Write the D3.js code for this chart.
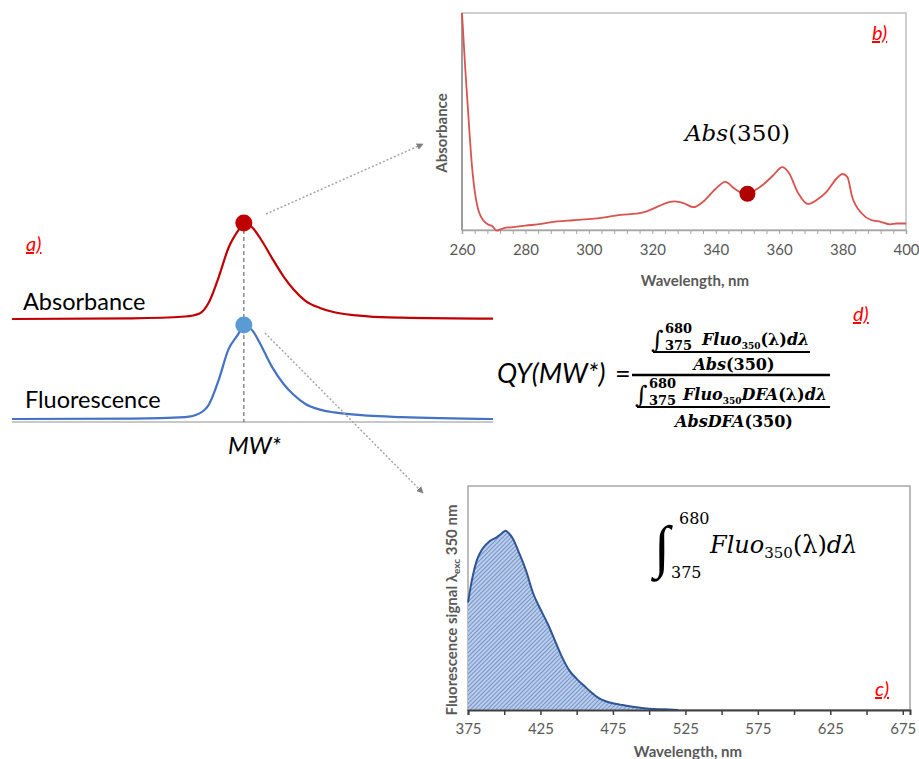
<!DOCTYPE html>
<html>
<head>
<meta charset="utf-8">
<script src="https://cdn.jsdelivr.net/npm/d3@7"></script>
<style>
  body { margin: 0; background: #fff; }
  svg { display: block; }
  text { font-family: Lato, "Open Sans", sans-serif; }
  .math { font-family: "DejaVu Serif", "Liberation Serif", serif; }
  .intg { font-family: "Liberation Serif", "DejaVu Serif", serif; }
</style>
</head>
<body>
<div id="chart-area"></div>
<script>
// ---- panel a: schematic MW distribution (arbitrary units) ----
const mwPos = [0, 25, 36, 39, 41, 43, 45, 47, 48.2, 50, 52, 54, 56.5, 58.5, 61, 64, 67, 74, 81, 100]
const mwAbs = [0, 0.007, 0.026, 0.058, 0.18, 0.44, 0.74, 0.92, 1.0, 0.95, 0.81, 0.64, 0.44, 0.31, 0.19, 0.115, 0.07, 0.028, 0.014, 0.003]
const mwFluo = [0, 0.005, 0.02, 0.06, 0.16, 0.42, 0.74, 0.9, 1.0, 0.94, 0.76, 0.56, 0.37, 0.26, 0.16, 0.1, 0.07, 0.035, 0.02, 0]
const mwPeak = 48.2

// ---- panel b: absorbance spectrum ----
const absWl = [260, 261, 262, 263, 264, 265, 266, 268, 269.5, 271, 273, 276, 280, 285, 290, 295, 300, 305, 310, 315, 318, 322, 325, 327, 330, 333, 336, 340, 343, 346, 348, 350, 352, 355, 358, 361, 363, 366, 369, 372, 375, 378, 380, 381.5, 383, 386, 389, 392, 395, 397, 400]
const absVal = [1.0, 0.75, 0.53, 0.32, 0.18, 0.1, 0.06, 0.028, 0.018, -0.003, 0.008, 0.013, 0.02, 0.028, 0.04, 0.045, 0.05, 0.058, 0.07, 0.075, 0.085, 0.11, 0.127, 0.132, 0.123, 0.105, 0.13, 0.19, 0.222, 0.19, 0.172, 0.167, 0.18, 0.21, 0.25, 0.29, 0.265, 0.17, 0.12, 0.14, 0.177, 0.235, 0.258, 0.245, 0.154, 0.077, 0.046, 0.038, 0.026, 0.03, 0.03]
const absTicks = d3.range(260, 401, 4)
const absLabels = [260, 280, 300, 320, 340, 360, 380, 400]
const excWl = 350

// ---- panel c: fluorescence emission at 350 nm excitation ----
const fluoWl = [375, 378, 381, 385, 390, 395, 398, 401, 403, 406, 410, 415, 420, 425, 430, 435, 440, 445, 450, 455, 460, 465, 470, 475, 480, 490, 500, 510, 520]
const fluoVal = [0.48, 0.59, 0.667, 0.72, 0.754, 0.772, 0.787, 0.8, 0.79, 0.765, 0.705, 0.623, 0.52, 0.45, 0.385, 0.31, 0.235, 0.176, 0.139, 0.109, 0.079, 0.054, 0.039, 0.03, 0.024, 0.013, 0.006, 0.003, 0]
const fluoTicks = d3.range(375, 680, 25)
const fluoLabels = [375, 425, 475, 525, 575, 625, 675]

const RED = "#c00000", BLUE = "#4472c4", AXIS_GREY = "#595959"

const svg = d3.select("#chart-area").append("svg")
  .attr("width", 919)
  .attr("height", 759)

const defs = svg.append("defs")
defs.append("marker")
  .attr("id", "arrow")
  .attr("viewBox", "0 0 10 10")
  .attr("refX", 9).attr("refY", 5)
  .attr("markerWidth", 7).attr("markerHeight", 7)
  .attr("markerUnits", "userSpaceOnUse")
  .attr("orient", "auto")
  .append("path").attr("d", "M0,0L10,5L0,10Z").attr("fill", "#7f7f7f")

const hatch = defs.append("pattern")
  .attr("id", "hatch")
  .attr("patternUnits", "userSpaceOnUse")
  .attr("width", 3).attr("height", 3)
  .attr("patternTransform", "rotate(45)")
hatch.append("rect").attr("width", 3).attr("height", 3).attr("fill", "#bccde9")
hatch.append("line").attr("x1", 0).attr("y1", 0).attr("x2", 0).attr("y2", 3)
  .attr("stroke", "#5a82c2").attr("stroke-width", 1.5)

function panelLabel(x, y, txt) {
  svg.append("text")
    .attr("x", x).attr("y", y)
    .attr("font-size", "20px")
    .attr("font-style", "italic")
    .attr("text-decoration", "underline")
    .attr("fill", "#ff0000")
    .text(txt)
}

// ================= panel a =================
const xa = d3.scaleLinear().domain([0, 100]).range([12, 493])
const yaAbs = d3.scaleLinear().domain([0, 1]).range([319, 223])
const yaFluo = d3.scaleLinear().domain([0, 1]).range([419, 325])

const ga = svg.append("g")

ga.append("line")
  .attr("x1", xa(0)).attr("x2", xa(100))
  .attr("y1", 422).attr("y2", 422)
  .attr("stroke", "#c8c8c8").attr("stroke-width", 2)

ga.append("line")
  .attr("x1", xa(mwPeak)).attr("x2", xa(mwPeak))
  .attr("y1", yaAbs(1)).attr("y2", 422)
  .attr("stroke", "#6f6f6f").attr("stroke-width", 1.2)
  .attr("stroke-dasharray", "4,3")

const mwRows = mwPos.map((p, i) => ({ p, a: mwAbs[i], f: mwFluo[i] }))

ga.append("path")
  .datum(mwRows)
  .attr("fill", "none").attr("stroke", RED).attr("stroke-width", 2.2)
  .attr("d", d3.line().x(d => xa(d.p)).y(d => yaAbs(d.a)).curve(d3.curveMonotoneX))

ga.append("path")
  .datum(mwRows)
  .attr("fill", "none").attr("stroke", BLUE).attr("stroke-width", 2.2)
  .attr("d", d3.line().x(d => xa(d.p)).y(d => yaFluo(d.f)).curve(d3.curveMonotoneX))

// dotted arrows to panels b and c
ga.append("line")
  .attr("x1", 266).attr("y1", 214).attr("x2", 423).attr("y2", 144)
  .attr("stroke", "#a6a6a6").attr("stroke-width", 1.5).attr("stroke-dasharray", "2,2")
  .attr("marker-end", "url(#arrow)")
ga.append("line")
  .attr("x1", 265).attr("y1", 333).attr("x2", 423).attr("y2", 493)
  .attr("stroke", "#a6a6a6").attr("stroke-width", 1.5).attr("stroke-dasharray", "2,2")
  .attr("marker-end", "url(#arrow)")

ga.append("circle").attr("cx", xa(mwPeak)).attr("cy", yaAbs(1)).attr("r", 8.5).attr("fill", RED)
ga.append("circle").attr("cx", xa(mwPeak)).attr("cy", yaFluo(1)).attr("r", 8.5).attr("fill", "#5b9bd5")

ga.append("text").attr("x", 23).attr("y", 310).attr("font-size", "23.5px").attr("fill", "#000").text("Absorbance")
ga.append("text").attr("x", 25).attr("y", 408).attr("font-size", "23.5px").attr("fill", "#000").text("Fluorescence")
ga.append("text").attr("x", 228).attr("y", 454).attr("font-size", "24px").attr("font-style", "italic").text("MW*")
panelLabel(26, 251, "a)")

// ================= panel b =================
const xb = d3.scaleLinear().domain([260, 400]).range([462, 906])
const yb = d3.scaleLinear().domain([0, 1]).range([230, 13])

const gb = svg.append("g")
gb.append("rect")
  .attr("x", xb(260)).attr("y", yb(1))
  .attr("width", xb(400) - xb(260)).attr("height", yb(0) - yb(1))
  .attr("fill", "none").attr("stroke", "#bfbfbf").attr("stroke-width", 1.5)

const xbAxis = gb.append("g")
  .attr("transform", `translate(0, ${yb(0)})`)
  .call(d3.axisBottom(xb).tickValues(absTicks).tickSize(4).tickPadding(10)
    .tickFormat(d => absLabels.includes(d) ? d : ""))
xbAxis.select(".domain").attr("stroke", "#a6a6a6").attr("stroke-width", 1.5)
xbAxis.selectAll(".tick line").attr("stroke", "#a6a6a6")
xbAxis.selectAll("text").attr("font-size", "15px").attr("fill", AXIS_GREY)
  .attr("font-family", "Lato, sans-serif")

gb.append("line")
  .attr("x1", xb(260)).attr("x2", xb(260)).attr("y1", yb(1)).attr("y2", yb(0))
  .attr("stroke", "#8c8c8c").attr("stroke-width", 1.5)

const absRows = absWl.map((w, i) => ({ w, v: absVal[i] }))
gb.append("path")
  .datum(absRows)
  .attr("fill", "none").attr("stroke", "#d9534f").attr("stroke-width", 1.8)
  .attr("d", d3.line().x(d => xb(d.w)).y(d => yb(d.v)).curve(d3.curveMonotoneX))

gb.append("circle")
  .attr("cx", xb(excWl)).attr("cy", yb(absVal[absWl.indexOf(excWl)]))
  .attr("r", 8).attr("fill", "#b00000")

const absLbl = gb.append("text").attr("class", "math").attr("x", 685).attr("y", 141).attr("font-size", "23px")
absLbl.append("tspan").attr("font-style", "italic").text("Abs")
absLbl.append("tspan").text("(350)")

gb.append("text")
  .attr("x", 695).attr("y", 286).attr("text-anchor", "middle")
  .attr("font-size", "15px").attr("font-weight", "bold").attr("fill", AXIS_GREY)
  .text("Wavelength, nm")
gb.append("text")
  .attr("transform", "translate(447, 133) rotate(-90)").attr("text-anchor", "middle")
  .attr("font-size", "15px").attr("font-weight", "bold").attr("fill", AXIS_GREY)
  .text("Absorbance")
panelLabel(872, 40, "b)")

// ================= panel c =================
const xc = d3.scaleLinear().domain([375, 680]).range([468, 910])
const yc = d3.scaleLinear().domain([0, 1]).range([710, 486])

const gc = svg.append("g")
gc.append("rect")
  .attr("x", xc(375)).attr("y", yc(1))
  .attr("width", xc(680) - xc(375)).attr("height", yc(0) - yc(1))
  .attr("fill", "none").attr("stroke", "#a6a6a6").attr("stroke-width", 1.5)

const fluoRows = fluoWl.map((w, i) => ({ w, v: fluoVal[i] }))
gc.append("path")
  .datum(fluoRows)
  .attr("fill", "url(#hatch)")
  .attr("d", d3.area().x(d => xc(d.w)).y0(yc(0)).y1(d => yc(d.v)).curve(d3.curveMonotoneX))
gc.append("path")
  .datum(fluoRows)
  .attr("fill", "none").attr("stroke", "#2f5597").attr("stroke-width", 2)
  .attr("d", d3.line().x(d => xc(d.w)).y(d => yc(d.v)).curve(d3.curveMonotoneX))

const xcAxis = gc.append("g")
  .attr("transform", `translate(0, ${yc(0)})`)
  .call(d3.axisBottom(xc).tickValues(fluoTicks).tickSize(5).tickPadding(8)
    .tickFormat(d => fluoLabels.includes(d) ? d : ""))
xcAxis.select(".domain").attr("stroke", "#404040").attr("stroke-width", 2)
xcAxis.selectAll(".tick line").attr("stroke", "#404040").attr("stroke-width", 1.5)
xcAxis.selectAll("text").attr("font-size", "15px").attr("fill", AXIS_GREY)
  .attr("font-family", "Lato, sans-serif")

gc.append("text")
  .attr("x", 688).attr("y", 757).attr("text-anchor", "middle")
  .attr("font-size", "15px").attr("font-weight", "bold").attr("fill", AXIS_GREY)
  .text("Wavelength, nm")
const fyl = gc.append("text")
  .attr("transform", "translate(457, 610) rotate(-90)").attr("text-anchor", "middle")
  .attr("font-size", "15px").attr("font-weight", "bold").attr("fill", AXIS_GREY)
fyl.append("tspan").text("Fluorescence signal \u03bb")
fyl.append("tspan").attr("font-size", "10px").attr("dy", 3).text("exc")
fyl.append("tspan").attr("dy", -3).text(" 350 nm")

// integral annotation
gc.append("text").attr("class", "intg").attr("x", 654).attr("y", 566).attr("font-size", "58px").text("\u222b")
gc.append("text").attr("class", "math").attr("x", 679).attr("y", 524).attr("font-size", "16px").text("680")
gc.append("text").attr("class", "math").attr("x", 671).attr("y", 578).attr("font-size", "16px").text("375")
const fl = gc.append("text").attr("class", "math").attr("x", 710).attr("y", 553).attr("font-size", "24px")
fl.append("tspan").attr("font-style", "italic").text("Fluo")
fl.append("tspan").attr("font-size", "15px").attr("dy", 5).text("350")
fl.append("tspan").attr("dy", -5).text("(\u03bb)")
fl.append("tspan").attr("font-style", "italic").text("d\u03bb")
panelLabel(875, 696, "c)")

// ================= panel d =================
const gd = svg.append("g")
gd.append("text").attr("x", 497).attr("y", 383).attr("font-size", "27px").attr("font-style", "italic").text("QY(MW*)")
gd.append("text").attr("x", 615).attr("y", 383).attr("font-size", "27px").text("=")

function fracLine(x1, x2, y, w) {
  gd.append("line").attr("x1", x1).attr("x2", x2).attr("y1", y).attr("y2", y)
    .attr("stroke", "#000").attr("stroke-width", w)
}
fracLine(632, 830, 375, 2.4)
fracLine(653, 810, 352, 1.8)
fracLine(637, 830, 407, 1.8)

function integral(x, yBase, lo, hi, loX, hiX, body) {
  gd.append("text").attr("class", "math").attr("x", x).attr("y", yBase + 3).attr("font-size", "24px").text("\u222b")
  gd.append("text").attr("class", "math").attr("x", hiX).attr("y", yBase - 12).attr("font-size", "13px").attr("font-weight", "bold").text(hi)
  gd.append("text").attr("class", "math").attr("x", loX).attr("y", yBase + 5).attr("font-size", "13px").attr("font-weight", "bold").text(lo)
  const t = gd.append("text").attr("class", "math").attr("x", body.x).attr("y", yBase)
    .attr("font-size", "16px").attr("font-weight", "bold")
  body.parts.forEach(p => {
    const s = t.append("tspan").text(p.t)
    if (p.i) s.attr("font-style", "italic")
    if (p.sub) s.attr("font-size", "9px").attr("dy", 4)
    if (p.up) s.attr("dy", -4)
  })
}
integral(651, 345, "375", "680", 665, 665, { x: 702, parts: [
  { t: "Fluo", i: true }, { t: "350", sub: true }, { t: "(\u03bb)", up: true }, { t: "d\u03bb", i: true }] })
integral(635, 400, "375", "680", 649, 649, { x: 683, parts: [
  { t: "Fluo", i: true }, { t: "350", sub: true }, { t: "DFA", i: true, up: true }, { t: "(\u03bb)" }, { t: "d\u03bb", i: true }] })

const n2 = gd.append("text").attr("class", "math").attr("x", 734).attr("y", 370).attr("text-anchor", "middle")
  .attr("font-size", "16px").attr("font-weight", "bold")
n2.append("tspan").attr("font-style", "italic").text("Abs")
n2.append("tspan").text("(350)")
const d2 = gd.append("text").attr("class", "math").attr("x", 734).attr("y", 427).attr("text-anchor", "middle")
  .attr("font-size", "16px").attr("font-weight", "bold")
d2.append("tspan").attr("font-style", "italic").text("AbsDFA")
d2.append("tspan").text("(350)")
panelLabel(853, 321, "d)")
</script>
</body>
</html>
